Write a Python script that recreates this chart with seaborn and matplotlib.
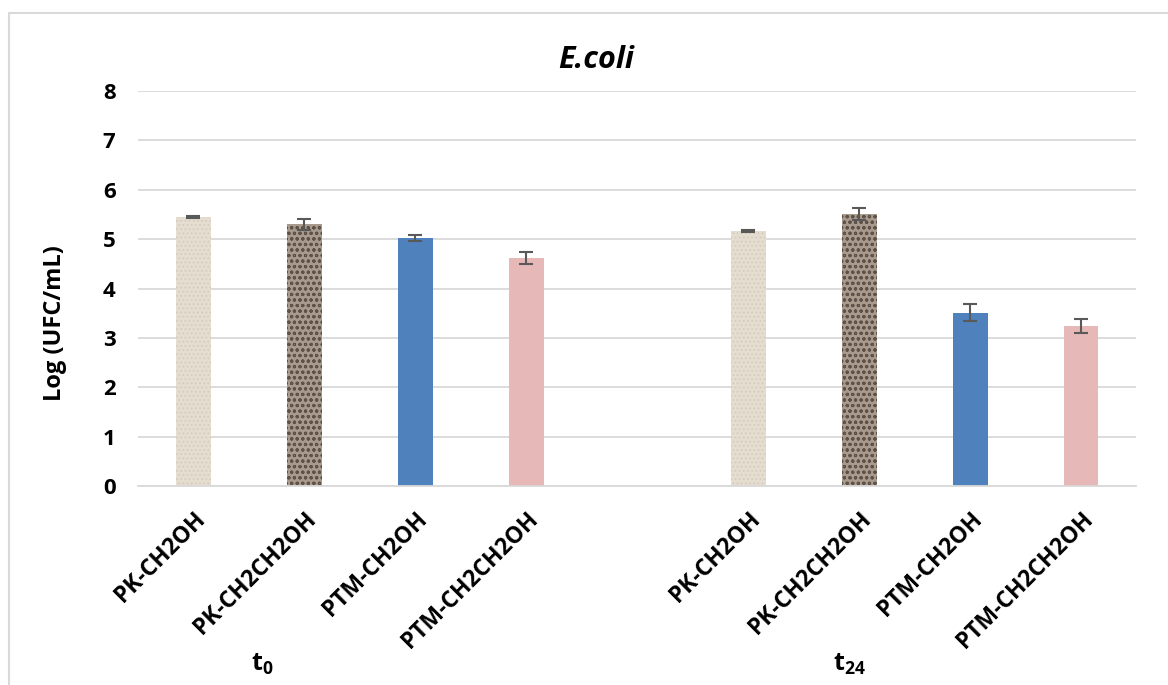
import numpy as np
import pandas as pd
import matplotlib
matplotlib.use('Agg')
import matplotlib.pyplot as plt
import seaborn as sns
from matplotlib.patches import Rectangle

# data
compounds = ['PK-CH2OH', 'PK-CH2CH2OH', 'PTM-CH2OH', 'PTM-CH2CH2OH']
times = ['t0', 't24']
time_labels = [r'$\mathbf{t_0}$', r'$\mathbf{t_{24}}$']
log_t0 = [5.45, 5.30, 5.02, 4.62]
log_t24 = [5.16, 5.51, 3.51, 3.24]
err_t0 = [0.02, 0.11, 0.06, 0.12]
err_t24 = [0.02, 0.13, 0.17, 0.15]

bar_colors = ['#e5ddd0', '#a89a8c', '#4f81bd', '#e6b8b7']
hatch_colors = ['#d6ccbd', '#5e5248', None, None]
hatches = ['....', 'ooo', None, None]

sns.set_theme(style='white')
plt.rcParams['font.family'] = ['Open Sans', 'DejaVu Sans']
plt.rcParams['mathtext.fontset'] = 'custom'
plt.rcParams['mathtext.bf'] = 'Open Sans:bold'
plt.rcParams['mathtext.rm'] = 'Open Sans'
plt.rcParams['hatch.linewidth'] = 0.8
plt.rcParams['text.color'] = 'black'
plt.rcParams['xtick.color'] = 'black'
plt.rcParams['ytick.color'] = 'black'
plt.rcParams['axes.labelcolor'] = 'black'

# one category per bar, with an empty slot between the two time points
df = pd.DataFrame({
    'slot': [t + '|' + c for t in times for c in compounds],
    'compound': compounds * 2,
    'log': log_t0 + log_t24,
    'err': err_t0 + err_t24,
})
order = [times[0] + '|' + c for c in compounds] + ['gap'] + \
        [times[1] + '|' + c for c in compounds]

fig = plt.figure(figsize=(11.68, 6.85), dpi=100)
ax = fig.add_axes([0.118, 0.2905, 0.855, 0.5765])

sns.barplot(data=df, x='slot', y='log', hue='compound', order=order,
            hue_order=compounds, palette=bar_colors, dodge=False,
            saturation=1, width=0.315, legend=False, ax=ax, errorbar=None)

for patch in ax.patches:
    if patch.get_height() == 0:
        continue
    xc = patch.get_x() + patch.get_width() / 2
    idx = int(round(xc))
    k = compounds.index(order[idx].split('|')[1])
    patch.set_linewidth(0)
    if hatches[k]:
        patch.set_hatch(hatches[k])
        patch.set_edgecolor(hatch_colors[k])

pos = [order.index(s) for s in df['slot']]
ax.errorbar(pos, df['log'], yerr=df['err'], fmt='none',
            ecolor='#595959', elinewidth=1.5, capsize=5, capthick=1.5)

ax.set_ylim(0, 8)
ax.set_xlim(-0.5, len(order) - 0.5)
ax.set_yticks(range(0, 9))
ax.yaxis.grid(True, color='#d9d9d9', linewidth=1.3)
ax.set_axisbelow(True)
for side in ['top', 'right', 'left']:
    ax.spines[side].set_visible(False)
ax.spines['bottom'].set_color('#d9d9d9')
ax.spines['bottom'].set_linewidth(1.3)

ax.set_xticks(range(len(order)))
ax.set_xticklabels([s.split('|')[1] if '|' in s else '' for s in order],
                   rotation=45, ha='right', rotation_mode='anchor',
                   fontsize=16.5, fontweight='bold')
ax.tick_params(axis='x', length=0, pad=15)
ax.tick_params(axis='y', length=0, pad=16, labelsize=16)
for lab in ax.get_yticklabels():
    lab.set_fontweight('bold')

ax.set_xlabel('')
ax.set_ylabel('Log (UFC/mL)', fontsize=17, fontweight='bold')
ax.yaxis.set_label_coords(-0.071, 0.413)
fig.text(596 / 1168, 1 - 60 / 685, 'E.coli', fontsize=22,
         fontweight='bold', style='italic', ha='center', va='center')

# group labels under the rotated tick labels
label_shift = [-0.88, -0.59]
for i, lab in enumerate(time_labels):
    center = np.mean([order.index(times[i] + '|' + c) for c in compounds])
    ax.text(center + label_shift[i], -0.453, lab,
            transform=ax.get_xaxis_transform(),
            ha='center', va='center', fontsize=18)

# chart border
fig.patches.append(Rectangle((9 / 1168, -0.1), 1.2, 1 - 13 / 685 + 0.1,
                             transform=fig.transFigure, fill=False,
                             edgecolor='#d9d9d9', linewidth=1.5))

fig.savefig('out.png', dpi=100)
